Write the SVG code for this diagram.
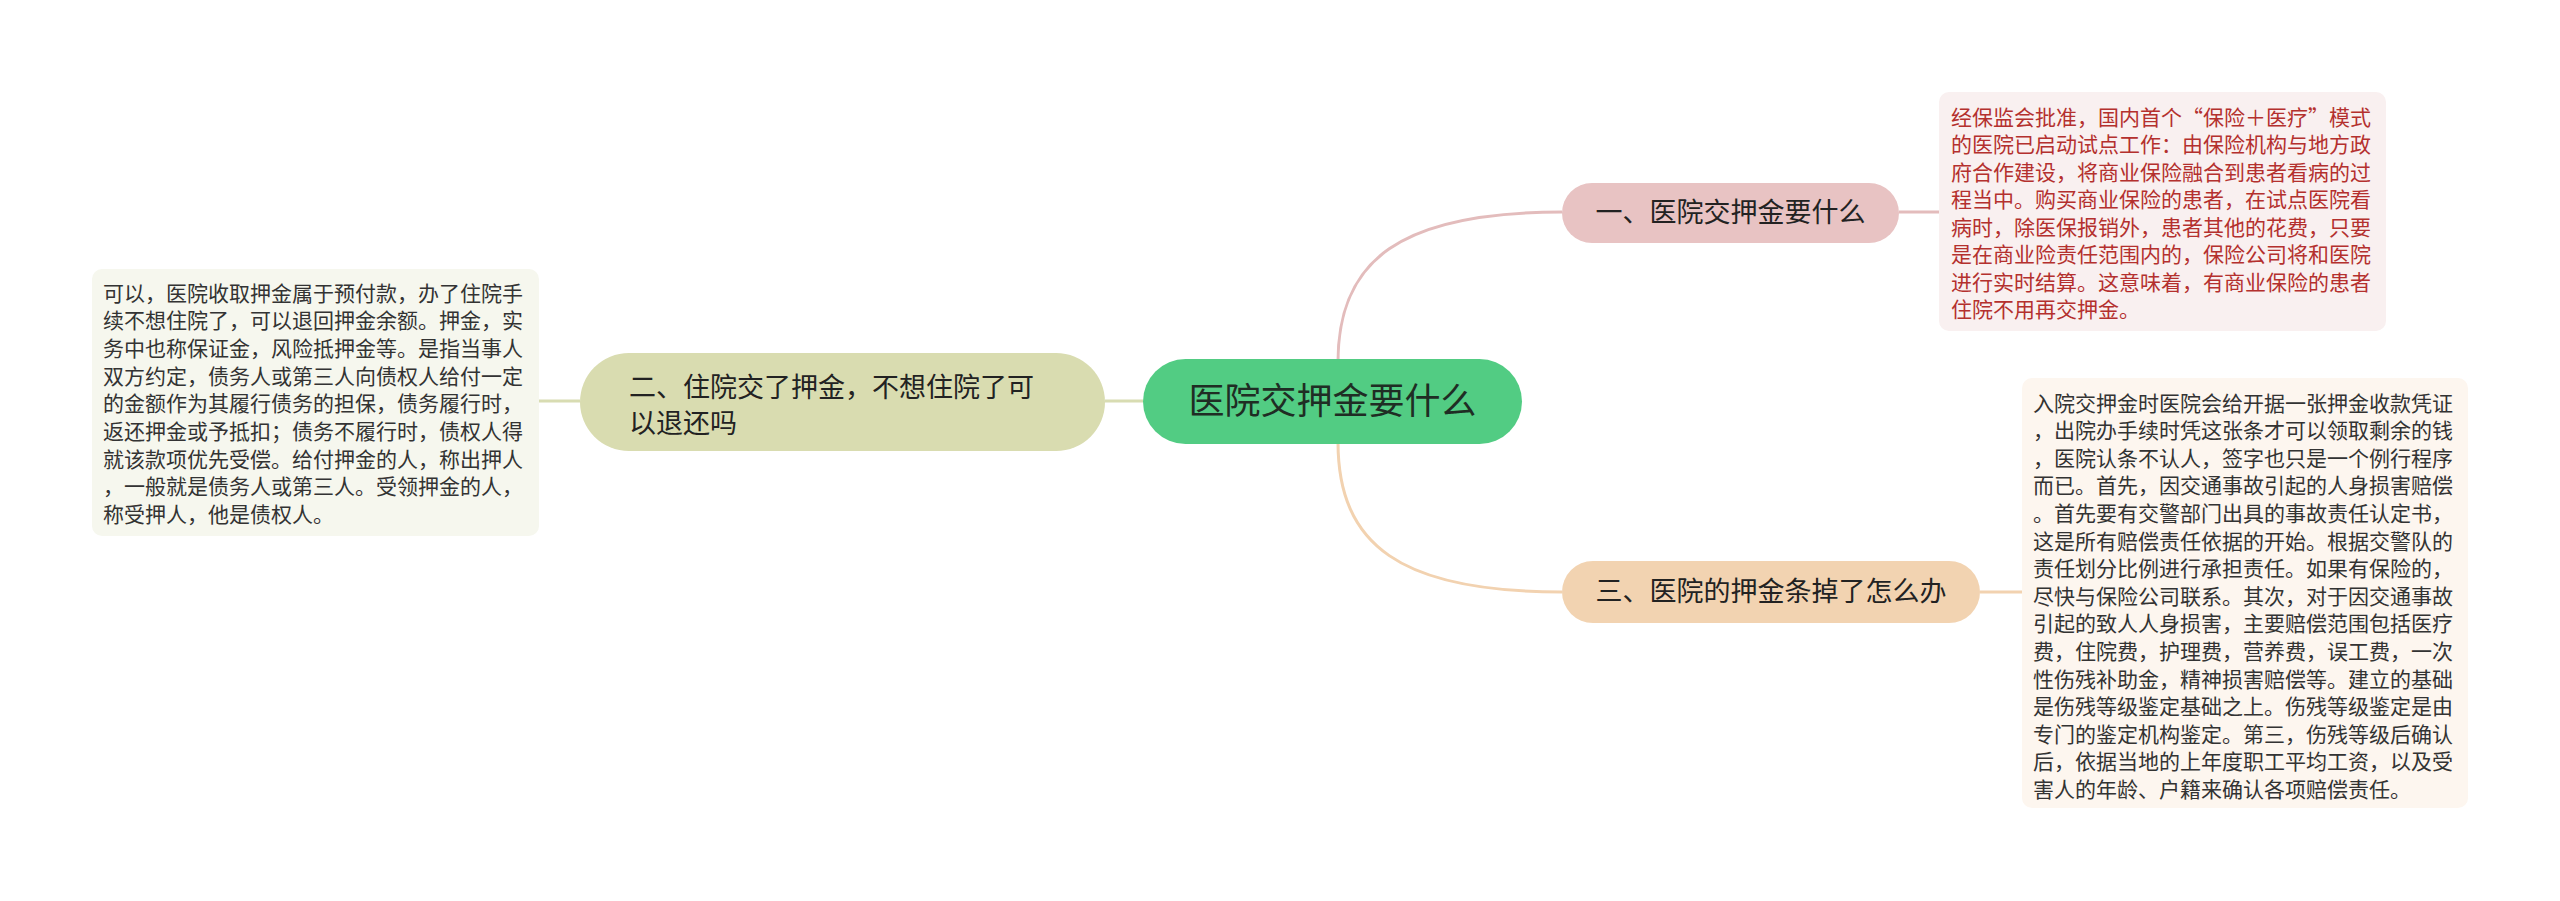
<svg xmlns="http://www.w3.org/2000/svg" width="2560" height="901" viewBox="0 0 2560 901">
<style>
.cn{font-family:"Liberation Sans","Noto Sans CJK SC",sans-serif;}
.cjk{font-family:"Noto Sans CJK SC",sans-serif;}
.node{font-size:27px;fill:#222;}
.small{font-size:21px;fill:#333;}
.red{fill:#b4302e;}
.conn{fill:none;stroke-width:3;}
</style>
<rect width="2560" height="901" fill="#ffffff"/>
<g id="connectors">
<path class="conn" stroke="#e3bcbc" d="M1338,362 C1338,260 1400,212 1562,212"/>
<path class="conn" stroke="#e3bcbc" d="M1899,212 L1939,212"/>
<path class="conn" stroke="#d8dcb2" d="M1143,401 L1105,401"/>
<path class="conn" stroke="#d8dcb2" d="M580,401 L539,401"/>
<path class="conn" stroke="#f2d2b0" d="M1338,442 C1338,545 1400,592 1562,592"/>
<path class="conn" stroke="#f2d2b0" d="M1980,592 L2022,592"/>
</g>
<g id="root">
<rect x="1143" y="359" width="379" height="85" rx="42.5" fill="#52cc83"/>
<text class="cn" x="1332.5" y="414" font-size="36" fill="#1f2d24" text-anchor="middle">医院交押金要什么</text>
</g>
<g id="n1">
<rect x="1562" y="183" width="337" height="60" rx="30" fill="#e8c3c3"/>
<text class="cn node" x="1730.5" y="222" text-anchor="middle">一、医院交押金要什么</text>
</g>
<g id="n1-note">
<rect x="1939" y="92" width="447" height="239" rx="10" fill="#f9f0f0"/>
<text class="cn small red" x="1951">
<tspan class="cjk" x="1951" y="124.5">经保监会批准，国内首个“保险＋医疗”模式</tspan>
<tspan x="1951" y="152">的医院已启动试点工作：由保险机构与地方政</tspan>
<tspan x="1951" y="179.5">府合作建设，将商业保险融合到患者看病的过</tspan>
<tspan x="1951" y="207">程当中。购买商业保险的患者，在试点医院看</tspan>
<tspan x="1951" y="234.5">病时，除医保报销外，患者其他的花费，只要</tspan>
<tspan x="1951" y="262">是在商业险责任范围内的，保险公司将和医院</tspan>
<tspan x="1951" y="289.5">进行实时结算。这意味着，有商业保险的患者</tspan>
<tspan x="1951" y="317">住院不用再交押金。</tspan>
</text>
</g>
<g id="n2">
<rect x="580" y="353" width="525" height="98" rx="49" fill="#d9dcb0"/>
<text class="cn node" x="629">
<tspan x="629" y="396.5">二、住院交了押金，不想住院了可</tspan>
<tspan x="629" y="432.5">以退还吗</tspan>
</text>
</g>
<g id="n2-note">
<rect x="92" y="269" width="447" height="267" rx="10" fill="#f6f7ee"/>
<text class="cn small" x="103">
<tspan x="103" y="300.5">可以，医院收取押金属于预付款，办了住院手</tspan>
<tspan x="103" y="328.2">续不想住院了，可以退回押金余额。押金，实</tspan>
<tspan x="103" y="355.9">务中也称保证金，风险抵押金等。是指当事人</tspan>
<tspan x="103" y="383.6">双方约定，债务人或第三人向债权人给付一定</tspan>
<tspan x="103" y="411.3">的金额作为其履行债务的担保，债务履行时，</tspan>
<tspan x="103" y="439">返还押金或予抵扣；债务不履行时，债权人得</tspan>
<tspan x="103" y="466.7">就该款项优先受偿。给付押金的人，称出押人</tspan>
<tspan x="103" y="494.4">，一般就是债务人或第三人。受领押金的人，</tspan>
<tspan x="103" y="522.1">称受押人，他是债权人。</tspan>
</text>
</g>
<g id="n3">
<rect x="1562" y="561" width="418" height="62" rx="31" fill="#f2d3b1"/>
<text class="cn node" x="1771" y="601" text-anchor="middle">三、医院的押金条掉了怎么办</text>
</g>
<g id="n3-note">
<rect x="2022" y="378" width="446" height="430" rx="10" fill="#fdf6ef"/>
<text class="cn small" x="2033">
<tspan x="2033" y="410.5">入院交押金时医院会给开据一张押金收款凭证</tspan>
<tspan x="2033" y="438.1">，出院办手续时凭这张条才可以领取剩余的钱</tspan>
<tspan x="2033" y="465.7">，医院认条不认人，签字也只是一个例行程序</tspan>
<tspan x="2033" y="493.3">而已。首先，因交通事故引起的人身损害赔偿</tspan>
<tspan x="2033" y="520.9">。首先要有交警部门出具的事故责任认定书，</tspan>
<tspan x="2033" y="548.5">这是所有赔偿责任依据的开始。根据交警队的</tspan>
<tspan x="2033" y="576.1">责任划分比例进行承担责任。如果有保险的，</tspan>
<tspan x="2033" y="603.7">尽快与保险公司联系。其次，对于因交通事故</tspan>
<tspan x="2033" y="631.3">引起的致人人身损害，主要赔偿范围包括医疗</tspan>
<tspan x="2033" y="658.9">费，住院费，护理费，营养费，误工费，一次</tspan>
<tspan x="2033" y="686.5">性伤残补助金，精神损害赔偿等。建立的基础</tspan>
<tspan x="2033" y="714.1">是伤残等级鉴定基础之上。伤残等级鉴定是由</tspan>
<tspan x="2033" y="741.7">专门的鉴定机构鉴定。第三，伤残等级后确认</tspan>
<tspan x="2033" y="769.3">后，依据当地的上年度职工平均工资，以及受</tspan>
<tspan x="2033" y="796.9">害人的年龄、户籍来确认各项赔偿责任。</tspan>
</text>
</g>
</svg>
